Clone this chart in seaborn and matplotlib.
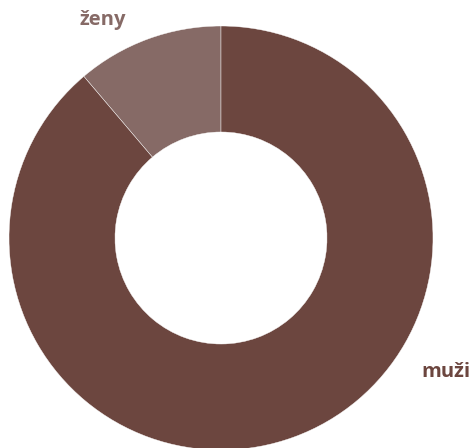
import matplotlib
matplotlib.use("Agg")
import matplotlib.pyplot as plt
import seaborn as sns

# data
labels = ["ženy", "muži"]
shares = [11.2, 88.8]
colors = ["#866a66", "#6c463f"]

sns.set_theme(style="white")
plt.rcParams['font.family'] = ['Open Sans', 'DejaVu Sans']

fig = plt.figure(figsize=(4.76, 4.48), dpi=100)
ax = fig.add_axes([0, 0, 1, 1])

ax.pie(shares, colors=colors, startangle=90, counterclock=True,
       radius=1.0, wedgeprops=dict(width=0.5, edgecolor="white", linewidth=0.3))

# place center at pixel (221, 238), radius 212 px
ax.set_xlim(-221 / 212, (476 - 221) / 212)
ax.set_ylim(-(448 - 238) / 212, 238 / 212)
ax.set_aspect("auto")
ax.axis("off")

ax.text(-0.557, 1.028, labels[0], color=colors[0], fontsize=14.5,
        fontweight="bold", ha="center", va="center")
ax.text(1.061, -0.632, labels[1], color=colors[1], fontsize=14.5,
        fontweight="bold", ha="center", va="center")

fig.savefig("out.png", dpi=100)
